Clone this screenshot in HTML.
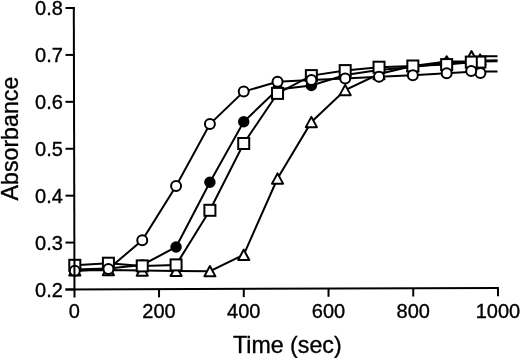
<!DOCTYPE html><html><head><meta charset="utf-8"><style>html,body{margin:0;padding:0;background:#fff;}svg{display:block;will-change:transform;} text{font-family:"Liberation Sans",sans-serif;fill:#000;stroke:#000;stroke-width:0.35px;}</style></head><body>
<svg width="520" height="358" viewBox="0 0 520 358">
<rect width="520" height="358" fill="#fff"/>
<g fill="none" stroke="#000" stroke-width="2.00" stroke-linejoin="miter">
<polyline points="74.8,270.4 108.4,270.0 142.2,270.5 176.1,270.9 209.9,271.2 243.7,254.8 277.5,178.5 311.4,122.0 345.2,90.0 379.0,74.0 412.8,66.0 446.7,61.4 471.3,61.2 479.9,60.8 497.5,60.2"/>
<polyline points="74.8,269.5 108.4,268.5 142.2,265.0 176.1,247.0 209.9,182.3 243.7,121.8 277.5,89.5 311.4,85.5 345.2,75.0 379.0,70.0 412.8,67.0 446.7,63.0 471.3,62.6 479.9,61.5 497.5,61.2"/>
<polyline points="74.8,265.3 108.4,263.2 142.2,265.9 176.1,264.9 209.9,210.3 243.7,143.5 277.5,93.4 311.4,75.6 345.2,70.6 379.0,67.2 412.8,66.0 446.7,64.6 471.3,62.4 479.9,56.2 497.5,56.2"/>
<polyline points="74.8,270.8 108.4,269.0 142.2,240.3 176.1,186.1 209.9,124.1 243.7,91.6 277.5,81.8 311.4,80.1 345.2,78.6 379.0,76.7 412.8,75.2 446.7,73.2 471.3,71.8 479.9,71.6 497.5,71.6"/>
</g>
<g fill="#fff" stroke="#000" stroke-width="2.00" stroke-linejoin="round">
<path d="M74.80 265.25L80.35 275.55L69.25 275.55Z"/>
<path d="M108.42 264.85L113.97 275.15L102.87 275.15Z"/>
<path d="M142.25 265.35L147.80 275.65L136.70 275.65Z"/>
<path d="M176.07 265.75L181.62 276.05L170.52 276.05Z"/>
<path d="M209.90 266.05L215.45 276.35L204.35 276.35Z"/>
<path d="M243.72 249.65L249.27 259.95L238.17 259.95Z"/>
<path d="M277.54 173.35L283.09 183.65L271.99 183.65Z"/>
<path d="M311.37 116.85L316.92 127.15L305.82 127.15Z"/>
<path d="M345.19 84.85L350.74 95.15L339.64 95.15Z"/>
<path d="M379.02 68.85L384.57 79.15L373.47 79.15Z"/>
<path d="M412.84 60.85L418.39 71.15L407.29 71.15Z"/>
<path d="M446.66 56.25L452.21 66.55L441.11 66.55Z"/>
<path d="M480.10 54.35L485.65 64.65L474.55 64.65Z"/>
<path d="M471.50 51.05L477.05 61.35L465.95 61.35Z"/>
</g>
<g fill="#000" stroke="#000" stroke-width="2.00">
<circle cx="74.80" cy="269.50" r="4.75"/>
<circle cx="108.42" cy="268.50" r="4.75"/>
<circle cx="142.25" cy="265.00" r="4.75"/>
<circle cx="176.07" cy="247.00" r="4.75"/>
<circle cx="209.90" cy="182.30" r="4.75"/>
<circle cx="243.72" cy="121.80" r="4.75"/>
<circle cx="277.54" cy="89.50" r="4.75"/>
<circle cx="311.37" cy="85.50" r="4.75"/>
<circle cx="345.19" cy="75.00" r="4.75"/>
<circle cx="379.02" cy="70.00" r="4.75"/>
<circle cx="412.84" cy="67.00" r="4.75"/>
<circle cx="446.66" cy="63.00" r="4.75"/>
</g>
<g fill="#fff" stroke="#000" stroke-width="2.00">
<rect x="69.30" y="259.80" width="11.00" height="11.00"/>
<rect x="102.92" y="257.70" width="11.00" height="11.00"/>
<rect x="136.75" y="260.40" width="11.00" height="11.00"/>
<rect x="170.57" y="259.40" width="11.00" height="11.00"/>
<rect x="204.40" y="204.80" width="11.00" height="11.00"/>
<rect x="238.22" y="138.00" width="11.00" height="11.00"/>
<rect x="272.04" y="87.90" width="11.00" height="11.00"/>
<rect x="305.87" y="70.10" width="11.00" height="11.00"/>
<rect x="339.69" y="65.10" width="11.00" height="11.00"/>
<rect x="373.52" y="61.70" width="11.00" height="11.00"/>
<rect x="407.34" y="60.50" width="11.00" height="11.00"/>
<rect x="441.16" y="59.10" width="11.00" height="11.00"/>
<rect x="474.40" y="56.60" width="11.00" height="11.00"/>
<rect x="465.80" y="56.60" width="11.00" height="11.00"/>
</g>
<g fill="#fff" stroke="#000" stroke-width="2.00">
<circle cx="74.80" cy="270.80" r="5.0"/>
<circle cx="108.42" cy="269.00" r="5.0"/>
<circle cx="142.25" cy="240.30" r="5.0"/>
<circle cx="176.07" cy="186.10" r="5.0"/>
<circle cx="209.90" cy="124.10" r="5.0"/>
<circle cx="243.72" cy="91.60" r="5.0"/>
<circle cx="277.54" cy="81.80" r="5.0"/>
<circle cx="311.37" cy="80.10" r="5.0"/>
<circle cx="345.19" cy="78.60" r="5.0"/>
<circle cx="379.02" cy="76.70" r="5.0"/>
<circle cx="412.84" cy="75.20" r="5.0"/>
<circle cx="446.66" cy="73.20" r="5.0"/>
<circle cx="480.40" cy="73.00" r="5.0"/>
<circle cx="471.20" cy="70.90" r="5.0"/>
</g>
<g stroke="#000" stroke-width="2" fill="none" stroke-linecap="butt">
<path d="M74.50 297.6L73.80 7"/>
<path d="M65.5 289.40L498.9 288.01"/>
<path d="M65.5 289.50H74.48"/>
<path d="M65.5 242.58H74.37"/>
<path d="M65.5 195.67H74.26"/>
<path d="M65.5 148.75H74.14"/>
<path d="M65.5 101.83H74.03"/>
<path d="M65.5 54.92H73.92"/>
<path d="M65.5 8.00H74.81"/>
<path d="M159.04 289.10V297.33"/>
<path d="M243.78 288.83V297.06"/>
<path d="M328.52 288.56V296.79"/>
<path d="M413.26 288.29V296.51"/>
<path d="M498.00 288.02V296.24"/>
</g>
<text x="62.9" y="296.60" font-size="20" text-anchor="end">0.2</text>
<text x="62.9" y="249.68" font-size="20" text-anchor="end">0.3</text>
<text x="62.9" y="202.77" font-size="20" text-anchor="end">0.4</text>
<text x="62.9" y="155.85" font-size="20" text-anchor="end">0.5</text>
<text x="62.9" y="108.93" font-size="20" text-anchor="end">0.6</text>
<text x="62.9" y="62.02" font-size="20" text-anchor="end">0.7</text>
<text x="62.9" y="15.10" font-size="20" text-anchor="end">0.8</text>
<text x="74.30" y="318.2" font-size="20" text-anchor="middle">0</text>
<text x="159.04" y="318.2" font-size="20" text-anchor="middle">200</text>
<text x="243.78" y="318.2" font-size="20" text-anchor="middle">400</text>
<text x="328.52" y="318.2" font-size="20" text-anchor="middle">600</text>
<text x="413.26" y="318.2" font-size="20" text-anchor="middle">800</text>
<text x="498.00" y="318.2" font-size="20" text-anchor="middle">1000</text>
<text x="287.3" y="353" font-size="23.2" text-anchor="middle">Time (sec)</text>
<text transform="translate(18 138.6) rotate(-90)" x="0" y="0" font-size="23.2" text-anchor="middle">Absorbance</text>
</svg></body></html>
